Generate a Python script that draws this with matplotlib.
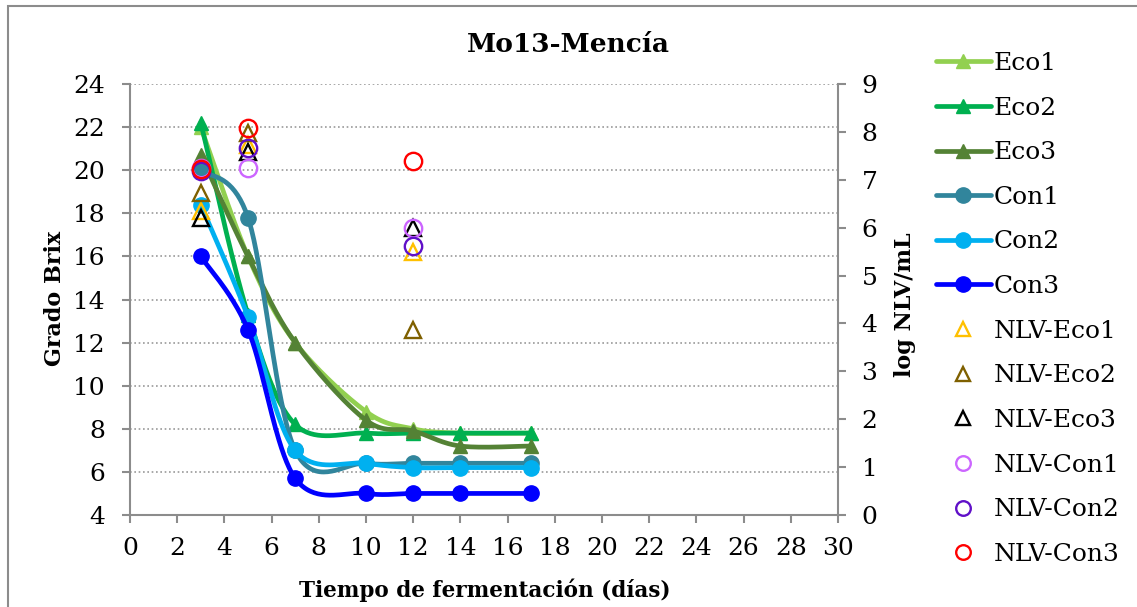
import numpy as np
import matplotlib
matplotlib.use("Agg")
import matplotlib.pyplot as plt
from matplotlib.lines import Line2D
from matplotlib.patches import Rectangle

# Brix evolution during fermentation (left axis)
days = [3, 5, 7, 10, 12, 14, 17]
eco1 = [22.0, 16.0, 12.0, 8.8, 8.0, 7.8, 7.8]
eco2 = [22.2, 13.3, 8.2, 7.8, 7.8, 7.8, 7.8]
eco3 = [20.7, 16.0, 12.0, 8.4, 7.9, 7.2, 7.2]
con1 = [20.0, 17.8, 7.0, 6.4, 6.4, 6.4, 6.4]
con2 = [18.4, 13.2, 7.0, 6.4, 6.2, 6.2, 6.2]
con3 = [16.0, 12.6, 5.7, 5.0, 5.0, 5.0, 5.0]

# Viable yeast counts, log NLV/mL (right axis)
nlv_days = [3, 5, 12]
nlv_eco1 = [6.35, 7.72, 5.50]
nlv_eco2 = [6.72, 7.97, 3.86]
nlv_eco3 = [6.20, 7.58, 6.00]
nlv_con1 = [7.24, 7.24, 6.00]
nlv_con2 = [7.18, 7.66, 5.62]
nlv_con3 = [7.22, 8.08, 7.39]

x_ticks = list(range(0, 31, 2))
left_ticks = list(range(4, 25, 2))
right_ticks = list(range(0, 10))

W, H = 1137, 607
FONT = "DejaVu Serif"
GRAY = "#8c8c8c"


def smooth(x, y, n=40):
    """Cubic Bezier curve through the points (Catmull-Rom style tangents)."""
    pts = np.column_stack([x, y]).astype(float)
    P = np.vstack([pts[0], pts, pts[-1]])
    segs = []
    t = np.linspace(0, 1, n)[:, None]
    for i in range(len(pts) - 1):
        p0, p1, p2, p3 = P[i], P[i + 1], P[i + 2], P[i + 3]
        c1 = p1 + (p2 - p0) / 6.0
        c2 = p2 - (p3 - p1) / 6.0
        seg = ((1 - t) ** 3) * p1 + 3 * ((1 - t) ** 2) * t * c1 \
            + 3 * (1 - t) * (t ** 2) * c2 + (t ** 3) * p2
        segs.append(seg if i == 0 else seg[1:])
    s = np.vstack(segs)
    return s[:, 0], s[:, 1]


plt.rcParams["font.family"] = [FONT, "DejaVu Sans"]

fig = plt.figure(figsize=(W / 100, H / 100), dpi=100)
ax = fig.add_axes([130 / W, 1 - 515 / H, 708 / W, 431 / H])
ax2 = ax.twinx()

brix_series = [
    ("Eco1", eco1, "#92D050", "^"),
    ("Eco2", eco2, "#00B050", "^"),
    ("Eco3", eco3, "#548235", "^"),
    ("Con1", con1, "#31859C", "o"),
    ("Con2", con2, "#00B0F0", "o"),
    ("Con3", con3, "#0000FF", "o"),
]
nlv_series = [
    ("NLV-Eco1", nlv_eco1, "#FFC000", "^"),
    ("NLV-Eco2", nlv_eco2, "#7F6000", "^"),
    ("NLV-Eco3", nlv_eco3, "#000000", "^"),
    ("NLV-Con1", nlv_con1, "#CC66FF", "o"),
    ("NLV-Con2", nlv_con2, "#6010C8", "o"),
    ("NLV-Con3", nlv_con3, "#FF0000", "o"),
]

LW = 3.4
handles = []
for i, (name, vals, col, mk) in enumerate(brix_series):
    sx, sy = smooth(days, vals)
    ms = 10 if mk == "^" else 11
    ax.plot(sx, sy, color=col, lw=LW, solid_capstyle="round", zorder=3 + i)
    ax.plot(days, vals, linestyle="none", marker=mk, ms=ms, color=col,
            mec=col, zorder=3 + i)
    handles.append(Line2D([], [], color=col, lw=LW, marker=mk, ms=ms,
                          mec=col, solid_capstyle="round", label=name))

for i, (name, vals, col, mk) in enumerate(nlv_series):
    ms = 12 if mk == "^" else 12.5
    ax2.plot(nlv_days, vals, linestyle="none", marker=mk, ms=ms,
             mfc="none", mec=col, mew=1.7, zorder=3 + i)
    handles.append(Line2D([], [], linestyle="none", marker=mk,
                          ms=10 if mk == "^" else 10.5,
                          mfc="none", mec=col, mew=1.7, label=name))

# Axes limits and ticks
ax.set_xlim(0, 30)
ax.set_ylim(4, 24)
ax2.set_ylim(0, 9)
ax.set_xticks(x_ticks)
ax.set_yticks(left_ticks)
ax2.set_yticks(right_ticks)

ax.yaxis.grid(True, color="#999999", linestyle=(0, (1, 1.6)), lw=1.2)
ax.set_axisbelow(True)

for a in (ax, ax2):
    a.spines["top"].set_visible(False)
    for s in ("left", "right", "bottom"):
        a.spines[s].set_color(GRAY)
        a.spines[s].set_linewidth(1.5)
ax2.spines["left"].set_visible(False)
ax2.spines["bottom"].set_visible(False)
ax.spines["right"].set_visible(False)

ax.tick_params(axis="y", direction="out", length=6, width=1.5, color=GRAY,
               pad=12, labelsize=18, labelcolor="black")
ax.tick_params(axis="x", direction="out", length=6, width=1.5, color=GRAY,
               pad=10, labelsize=18, labelcolor="black")
ax2.tick_params(axis="y", direction="out", length=6, width=1.5, color=GRAY,
                pad=11, labelsize=18, labelcolor="black")

# Titles and axis labels
fig.text(568 / W, 1 - 45 / H, "Mo13-Mencía", ha="center", va="center",
         fontsize=19, fontweight="bold")
fig.text(485 / W, 1 - 590 / H, "Tiempo de fermentación (días)",
         ha="center", va="center", fontsize=15.5, fontweight="bold")
fig.text(55 / W, 1 - 298 / H, "Grado Brix", ha="center", va="center",
         rotation=90, fontsize=16, fontweight="bold")
fig.text(905 / W, 1 - 305 / H, "log NLV/mL", ha="center", va="center",
         rotation=90, fontsize=16, fontweight="bold")

# Legend
fig.legend(handles=handles, loc="upper left",
           bbox_to_anchor=(936 / W, 1 - 52 / H), frameon=False,
           fontsize=18, handlelength=2.2, handletextpad=0.1,
           labelspacing=0.865, borderpad=0, borderaxespad=0, numpoints=1)

# Chart frame
fig.add_artist(Rectangle((8 / W, -0.05), 1.2, 1.05 - 6 / H,
                         transform=fig.transFigure, fill=False,
                         ec=GRAY, lw=1.5))

fig.savefig("out.png", dpi=100, facecolor="white")
